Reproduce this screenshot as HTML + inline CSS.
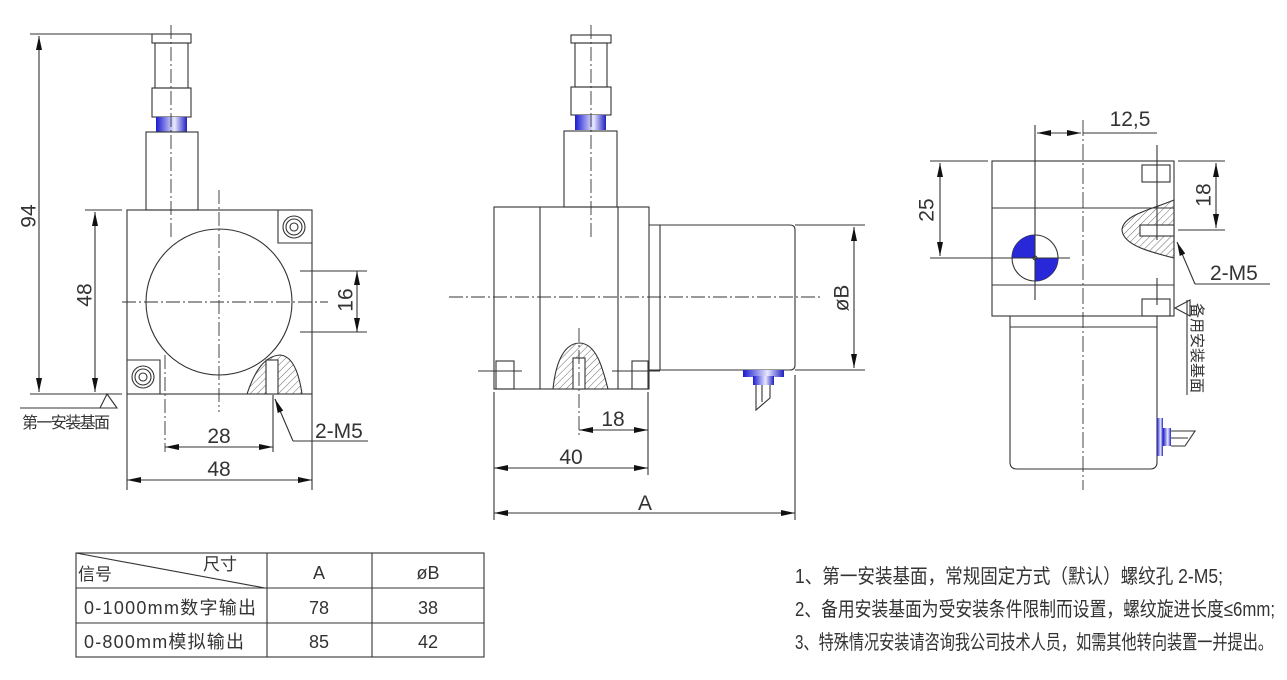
<!DOCTYPE html>
<html><head><meta charset="utf-8"><style>
html,body{margin:0;padding:0;background:#fff;}
svg{display:block;}
text{font-family:"Liberation Sans","Noto Sans CJK SC",sans-serif;fill:#333;}
</style></head><body>
<svg width="1287" height="680" viewBox="0 0 1287 680" xmlns="http://www.w3.org/2000/svg">
<defs>
<marker id="a" viewBox="0 0 14 6" refX="14" refY="3" markerWidth="14" markerHeight="6" orient="auto-start-reverse" markerUnits="userSpaceOnUse"><path d="M0,0L14,3L0,6z" fill="#111"/></marker>
<pattern id="h" width="5" height="5" patternUnits="userSpaceOnUse" patternTransform="rotate(45)"><line x1="0" y1="0" x2="0" y2="5" stroke="#444" stroke-width="0.8"/></pattern>
<linearGradient id="b" x1="0" x2="1"><stop offset="0" stop-color="#1a1ad0"/><stop offset="0.6" stop-color="#e8e8ff"/><stop offset="1" stop-color="#2020c0"/></linearGradient>
</defs>
<g fill="none" stroke="#333" stroke-width="1.1">
<rect x="152" y="34" width="39" height="9"/>
<rect x="155" y="43" width="33" height="45"/>
<rect x="152" y="88" width="39" height="29"/>
<rect x="156" y="117" width="31" height="15" fill="url(#b)" stroke="none"/>
<rect x="146" y="132" width="52" height="78"/>
<rect x="127" y="210" width="185" height="184"/>
<circle cx="219" cy="302" r="73"/>
<path d="M278 210V243H312"/>
<circle cx="294" cy="227" r="11"/><circle cx="294" cy="227" r="8"/><circle cx="294" cy="227" r="4"/>
<path d="M127 360H160V394"/>
<circle cx="143" cy="377" r="11"/><circle cx="143" cy="377" r="8"/><circle cx="143" cy="377" r="4"/>
<path d="M247 394C255 370 265 356 280 355C295 356 300 380 302 394Z" fill="url(#h)"/>
<rect x="266" y="360" width="12" height="34" fill="#fff"/>
<g stroke-dasharray="14,3,2,3" stroke-width="0.9">
<line x1="171" y1="25" x2="171" y2="238"/>
<line x1="219" y1="190" x2="219" y2="412"/>
<line x1="122" y1="302" x2="328" y2="302"/>
<line x1="165" y1="355" x2="165" y2="452"/>
</g>
<line x1="30" y1="34" x2="152" y2="34"/>
<line x1="39" y1="36" x2="39" y2="392" marker-start="url(#a)" marker-end="url(#a)"/>
<line x1="30" y1="394" x2="122" y2="394"/>
<line x1="85" y1="210" x2="122" y2="210"/>
<line x1="95" y1="212" x2="95" y2="392" marker-start="url(#a)" marker-end="url(#a)"/>
<path d="M107 394L100 408H117Z"/>
<line x1="20" y1="408" x2="117" y2="408"/>
<line x1="300" y1="271" x2="367" y2="271"/><line x1="300" y1="332" x2="367" y2="332"/>
<line x1="357" y1="271" x2="357" y2="332" marker-start="url(#a)" marker-end="url(#a)"/>
<line x1="273" y1="395" x2="273" y2="452"/>
<line x1="165" y1="447" x2="273" y2="447" marker-start="url(#a)" marker-end="url(#a)"/>
<line x1="127" y1="394" x2="127" y2="490"/><line x1="312" y1="394" x2="312" y2="490"/>
<line x1="127" y1="480" x2="312" y2="480" marker-start="url(#a)" marker-end="url(#a)"/>
<path d="M293 441L275 399" marker-end="url(#a)"/><line x1="293" y1="441" x2="368" y2="441"/>
<rect x="571" y="35" width="40" height="8"/>
<rect x="575" y="43" width="32" height="44"/>
<rect x="571" y="87" width="40" height="28"/>
<rect x="575" y="115" width="31" height="15" fill="url(#b)" stroke="none"/>
<rect x="564" y="131" width="53" height="76"/>
<rect x="494" y="207" width="155" height="182"/>
<line x1="540" y1="207" x2="540" y2="389"/><line x1="618" y1="207" x2="618" y2="389"/>
<path d="M649 225H790Q795 225 795 230V365Q795 370 790 370H649"/>
<line x1="660" y1="225" x2="660" y2="370"/>
<rect x="496" y="361" width="18" height="28"/><rect x="632" y="361" width="16" height="28"/>
<path d="M553 389C556 360 565 343 580 343C597 344 603 370 608 389Z" fill="url(#h)"/>
<rect x="573" y="358" width="12" height="31" fill="#fff"/>
<rect x="743" y="370" width="41" height="7" fill="url(#b)" stroke="none"/>
<rect x="753" y="376" width="21" height="9" fill="url(#b)" stroke="none"/>
<path d="M756 385V410L770 398V385M762 385V402"/>
<g stroke-dasharray="14,3,2,3" stroke-width="0.9">
<line x1="591" y1="25" x2="591" y2="240"/>
<line x1="449" y1="297" x2="822" y2="297"/>
<line x1="579" y1="328" x2="579" y2="438"/>
</g>
<line x1="478" y1="371" x2="522" y2="371"/><line x1="612" y1="371" x2="660" y2="371"/>
<line x1="795" y1="225" x2="865" y2="225"/><line x1="795" y1="370" x2="865" y2="370"/>
<line x1="854" y1="227" x2="854" y2="368" marker-start="url(#a)" marker-end="url(#a)"/>
<line x1="648" y1="392" x2="648" y2="475"/>
<line x1="579" y1="430" x2="648" y2="430" marker-start="url(#a)" marker-end="url(#a)"/>
<line x1="494" y1="392" x2="494" y2="520"/><line x1="795" y1="375" x2="795" y2="520"/>
<line x1="494" y1="468" x2="648" y2="468" marker-start="url(#a)" marker-end="url(#a)"/>
<line x1="494" y1="513" x2="795" y2="513" marker-start="url(#a)" marker-end="url(#a)"/>
<rect x="992" y="161" width="182" height="155"/>
<line x1="992" y1="208" x2="1174" y2="208"/><line x1="992" y1="285" x2="1174" y2="285"/>
<path d="M1010 316V462Q1010 469 1017 469H1150Q1157 469 1157 462V316"/>
<line x1="1010" y1="327" x2="1157" y2="327"/>
<rect x="1142" y="165" width="28" height="17"/><rect x="1142" y="299" width="28" height="17"/>
<path d="M1174 200C1150 210 1123 215 1122 230C1123 245 1150 252 1174 258Z" fill="url(#h)"/>
<rect x="1140" y="225" width="34" height="11" fill="#fff"/>
<circle cx="1035" cy="258" r="23"/>
<path d="M1035 258V235A23 23 0 0 0 1012 258Z" fill="#2828d8" stroke="none"/>
<path d="M1035 258V281A23 23 0 0 0 1058 258Z" fill="#2828d8" stroke="none"/>
<circle cx="1035" cy="258" r="2"/>
<line x1="1035" y1="125" x2="1035" y2="300"/>
<line x1="930" y1="258" x2="1070" y2="258"/>
<line x1="1083" y1="120" x2="1083" y2="490" stroke-dasharray="16,3,2,3" stroke-width="0.9"/>
<line x1="1157" y1="145" x2="1157" y2="240"/><line x1="1157" y1="278" x2="1157" y2="305"/>
<line x1="1037" y1="133" x2="1060" y2="133" marker-start="url(#a)"/>
<line x1="1060" y1="133" x2="1081" y2="133" marker-end="url(#a)"/>
<line x1="1083" y1="133" x2="1157" y2="133"/>
<line x1="930" y1="161" x2="988" y2="161"/>
<line x1="940" y1="163" x2="940" y2="256" marker-start="url(#a)" marker-end="url(#a)"/>
<line x1="1178" y1="161" x2="1225" y2="161"/><line x1="1178" y1="230" x2="1225" y2="230"/>
<line x1="1216" y1="163" x2="1216" y2="228" marker-start="url(#a)" marker-end="url(#a)"/>
<path d="M1195 284L1177 242" marker-end="url(#a)"/><line x1="1195" y1="284" x2="1270" y2="284"/>
<path d="M1175 308L1190 300V316Z"/>
<line x1="1187" y1="300" x2="1187" y2="395"/>
<rect x="1157" y="418" width="6" height="38" fill="url(#b)" stroke="none"/>
<rect x="1163" y="428" width="8" height="18" fill="url(#b)" stroke="none"/>
<path d="M1171 431H1195L1185 446H1171M1171 438H1188"/>
<rect x="76" y="553" width="408" height="104"/>
<line x1="76" y1="588" x2="484" y2="588"/><line x1="76" y1="623" x2="484" y2="623"/>
<line x1="267" y1="553" x2="267" y2="657"/><line x1="372" y1="553" x2="372" y2="657"/>
<line x1="76" y1="553" x2="265" y2="588"/>
</g>
<g font-size="21" style="fill:#444">
<text x="30" y="216" transform="rotate(-90 30 216)" text-anchor="middle" dominant-baseline="middle">94</text>
<text x="86" y="295" transform="rotate(-90 86 295)" text-anchor="middle" dominant-baseline="middle">48</text>
<text x="347" y="300" transform="rotate(-90 347 300)" text-anchor="middle" dominant-baseline="middle">16</text>
<text x="219" y="443" text-anchor="middle">28</text>
<text x="219" y="476" text-anchor="middle">48</text>
<text x="315" y="438">2-M5</text>
<text x="613" y="426" text-anchor="middle">18</text>
<text x="571" y="464" text-anchor="middle">40</text>
<text x="645" y="510" text-anchor="middle">A</text>
<text x="843" y="298" transform="rotate(-90 843 298)" text-anchor="middle" dominant-baseline="middle">øB</text>
<text x="1130" y="126" text-anchor="middle">12,5</text>
<text x="928" y="210" transform="rotate(-90 928 210)" text-anchor="middle" dominant-baseline="middle">25</text>
<text x="1205" y="195" transform="rotate(-90 1205 195)" text-anchor="middle" dominant-baseline="middle">18</text>
<text x="1210" y="280">2-M5</text>
</g>
<text x="22" y="428" font-size="16" textLength="88">第一安装基面</text>
<text x="1196" y="348" font-size="15" transform="rotate(90 1196 348)" text-anchor="middle" dominant-baseline="middle">备用安装基面</text>
<g font-size="18">
<text x="78" y="580" font-size="17">信号</text>
<text x="203" y="570" font-size="17">尺寸</text>
<text x="319" y="579" text-anchor="middle">A</text>
<text x="428" y="579" text-anchor="middle">øB</text>
<text x="84" y="614" textLength="172">0-1000mm数字输出</text>
<text x="319" y="614" text-anchor="middle">78</text>
<text x="428" y="614" text-anchor="middle">38</text>
<text x="84" y="648" textLength="160">0-800mm模拟输出</text>
<text x="319" y="648" text-anchor="middle">85</text>
<text x="428" y="648" text-anchor="middle">42</text>
</g>
<g font-size="20">
<text x="795" y="583" textLength="428" lengthAdjust="spacingAndGlyphs">1、第一安装基面，常规固定方式（默认）螺纹孔 2-M5;</text>
<text x="795" y="616" textLength="480" lengthAdjust="spacingAndGlyphs">2、备用安装基面为受安装条件限制而设置，螺纹旋进长度≤6mm;</text>
<text x="795" y="649" textLength="478" lengthAdjust="spacingAndGlyphs">3、特殊情况安装请咨询我公司技术人员，如需其他转向装置一并提出。</text>
</g>
</svg>
</body></html>
